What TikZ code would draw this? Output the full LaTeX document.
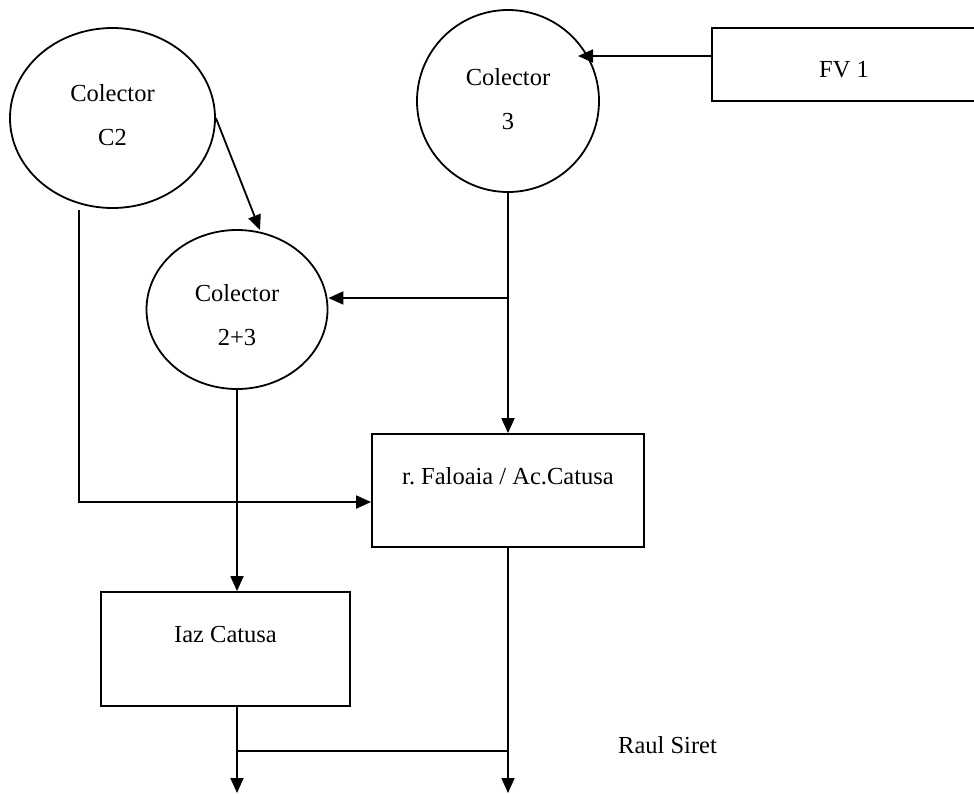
\documentclass[tikz,border=0pt]{standalone}
\usepackage{fontspec}
\setmainfont{Liberation Serif}
\usetikzlibrary{arrows.meta,shapes.geometric,calc}
\begin{document}
\begin{tikzpicture}[x=1pt,y=-1pt,
  every node/.style={font=\fontsize{24.5}{44}\selectfont},
  ell/.style={draw,ellipse,line width=1.8pt,inner sep=0pt},
  box/.style={draw,rectangle,line width=1.8pt,inner sep=0pt},
  lbl/.style={align=center,inner sep=0pt},
  arr/.style={line width=1.8pt,-{Triangle[length=15pt,width=13pt]}},
  ln/.style={line width=1.8pt}]
\clip (0,0) rectangle (974,793);
\node[ell,minimum width=205pt,minimum height=180pt] (c2) at (112.5,118) {};
\node[lbl] (c2t) at (112.5,115) {Colector\\C2};
\node[ell,minimum width=182pt,minimum height=182pt] (c3) at (508,101) {};
\node[lbl] (c3t) at (508,99) {Colector\\3};
\node[ell,minimum width=181pt,minimum height=159pt] (c23) at (237,309.5) {};
\node[lbl] (c23t) at (237,315) {Colector\\2+3};
\node[box,minimum width=264pt,minimum height=73pt,text height=25pt,text depth=0pt] (fv1) at (844,64.5) {FV 1};
\node[box,minimum width=272pt,minimum height=113pt,text height=17pt,text depth=30pt] (fal) at (508,490.5) {r.\ Faloaia / Ac.Catusa};
\node[box,minimum width=249pt,minimum height=114pt,text height=17pt,text depth=31pt] (iaz) at (225.5,649) {Iaz Catusa};
\node[anchor=base west,inner sep=0pt] (raul) at (618,753) {Raul Siret};
\draw[arr] ([yshift=8.5pt]fv1.west) -- ($(c3.center)+(70,-45)$);
\draw[arr] (c2.east) -- ($(c23.center)+(23,-79.5)$);
\draw[arr] ($(c2.south)+(-33.5,1)$) |- ($(fal.west)+(0,11.5)$);
\draw[arr] (c3.south) -- (fal.north);
\coordinate (br) at (508,298);
\draw[arr] (br) -- (br -| c23.east);
\draw[arr] (c23.south) -- (c23.south |- iaz.north);
\coordinate (j1) at (237,751);
\coordinate (o1) at (237,793);
\coordinate (o2) at (508,793);
\draw[arr] (c23.south |- iaz.south) -- (o1);
\draw[arr] (fal.south) -- (o2);
\draw[ln] (j1) -- (j1 -| fal.south);
\end{tikzpicture}
\end{document}
